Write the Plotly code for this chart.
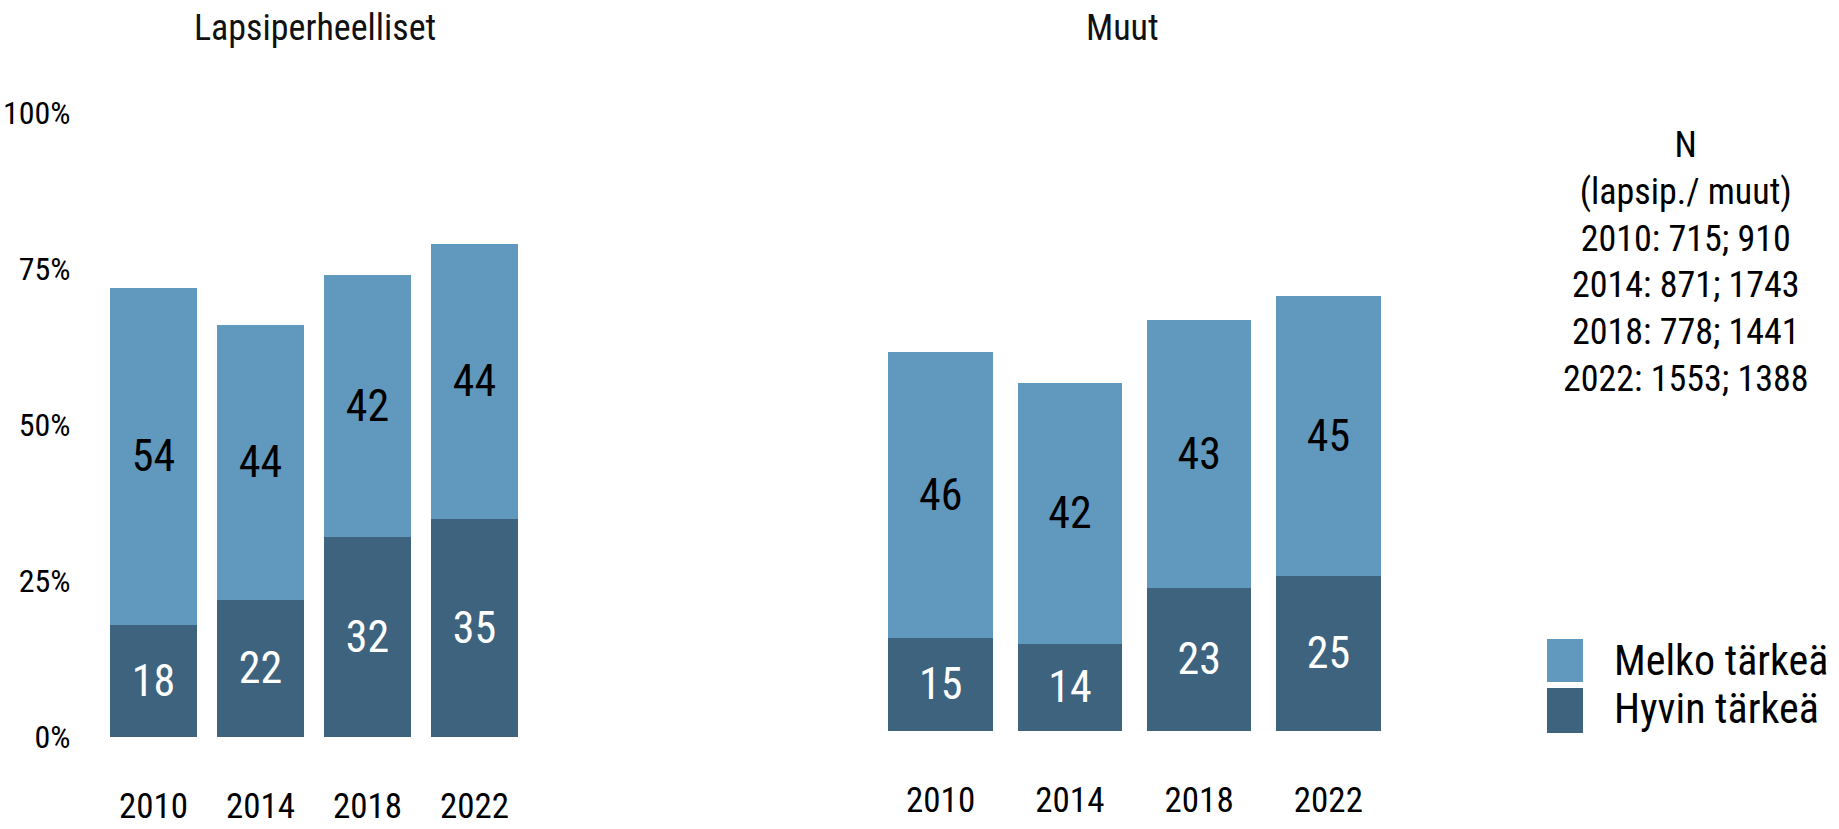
import plotly.graph_objects as go

# ---- data ----
years = ["2010", "2014", "2018", "2022"]
lapsi_hyvin = [18, 22, 32, 35]
lapsi_melko = [54, 44, 42, 44]
muut_hyvin = [15, 14, 23, 25]
muut_melko = [46, 42, 43, 45]
panel_titles = ["Lapsiperheelliset", "Muut"]
series_names = ["Hyvin tärkeä", "Melko tärkeä"]
y_ticks = [0, 25, 50, 75, 100]
y_ticklabels = ["0%", "25%", "50%", "75%", "100%"]
n_lines = ["N", "(lapsip./ muut)", "2010: 715; 910", "2014: 871; 1743",
           "2018: 778; 1441", "2022: 1553; 1388"]

# ---- style ----
W, H = 1839, 829
C_DARK = "#3d637f"
C_LIGHT = "#6198be"
FONT = "Liberation Sans Narrow, Roboto Condensed, DejaVu Sans Condensed, Arial Narrow, Roboto, sans-serif"

def px_x(x):
    return x / W

def px_y(y):
    return (H - y) / H

fig = go.Figure()

panels = [
    (lapsi_hyvin, lapsi_melko, "x", "y"),
    (muut_hyvin, muut_melko, "x2", "y2"),
]
for hyv, mel, xa, ya in panels:
    fig.add_trace(go.Bar(
        x=years, y=hyv, name=series_names[0], marker=dict(color=C_DARK, line=dict(width=0)),
        text=[str(v) for v in hyv], textposition="inside", insidetextanchor="middle",
        textangle=0, constraintext="none",
        textfont=dict(color="white", size=44, family=FONT),
        xaxis=xa, yaxis=ya, showlegend=False, hoverinfo="skip",
    ))
    fig.add_trace(go.Bar(
        x=years, y=mel, name=series_names[1], marker=dict(color=C_LIGHT, line=dict(width=0)),
        text=[str(v) for v in mel], textposition="inside", insidetextanchor="middle",
        textangle=0, constraintext="none",
        textfont=dict(color="black", size=44, family=FONT),
        xaxis=xa, yaxis=ya, showlegend=False, hoverinfo="skip",
    ))

xaxis_common = dict(type="category", showgrid=False, zeroline=False, showline=False,
                    automargin=False,
                    ticks="outside", ticklen=38, tickcolor="rgba(0,0,0,0)",
                    tickfont=dict(size=35, family=FONT, color="black"))
yaxis_common = dict(range=[0, 100], showgrid=False, zeroline=False, showline=False,
                    automargin=False, tickvals=y_ticks, ticktext=y_ticklabels)

fig.update_layout(
    width=W, height=H,
    margin=dict(l=0, r=0, t=0, b=0, autoexpand=False),
    paper_bgcolor="white", plot_bgcolor="white",
    barmode="stack", bargap=0.19,
    showlegend=False,
    font=dict(family=FONT, color="black"),
    xaxis=dict(domain=[px_x(100), px_x(528)], anchor="y", **xaxis_common),
    xaxis2=dict(domain=[px_x(876), px_x(1393)], anchor="y2", **xaxis_common),
    yaxis=dict(domain=[px_y(737), px_y(113)], anchor="x",
               ticks="outside", ticklen=22, tickcolor="rgba(0,0,0,0)",
               tickfont=dict(size=32, family=FONT, color="black"), **yaxis_common),
    yaxis2=dict(domain=[px_y(731), px_y(109)], anchor="x2", showticklabels=False, **yaxis_common),
)

annotations = []
for title, cx in zip(panel_titles, [315, 1122]):
    annotations.append(dict(text=title, x=px_x(cx), y=px_y(28), xref="paper", yref="paper",
                            xanchor="center", yanchor="middle", showarrow=False,
                            font=dict(size=36, family=FONT, color="#111111")))

annotations.append(dict(text="<br>".join(n_lines), x=px_x(1685), y=px_y(262), xref="paper", yref="paper",
                        xanchor="center", yanchor="middle", align="center", showarrow=False,
                        font=dict(size=36, family=FONT, color="black")))

# legend (drawn manually for large swatches)
shapes = []
for name, col, y0, y1, ty in [(series_names[1], C_LIGHT, 639, 682, 660),
                              (series_names[0], C_DARK, 688, 733, 708)]:
    shapes.append(dict(type="rect", xref="paper", yref="paper",
                       x0=px_x(1547), x1=px_x(1583), y0=px_y(y1), y1=px_y(y0),
                       fillcolor=col, line=dict(width=0)))
    annotations.append(dict(text=name, x=px_x(1612), y=px_y(ty), xref="paper", yref="paper",
                            xanchor="left", yanchor="middle", showarrow=False,
                            font=dict(size=42, family=FONT, color="black")))

fig.update_layout(annotations=annotations, shapes=shapes)

fig.write_html("out.html", config={"displayModeBar": False},
               post_script="document.body.style.margin='0';document.body.style.overflow='hidden';")
